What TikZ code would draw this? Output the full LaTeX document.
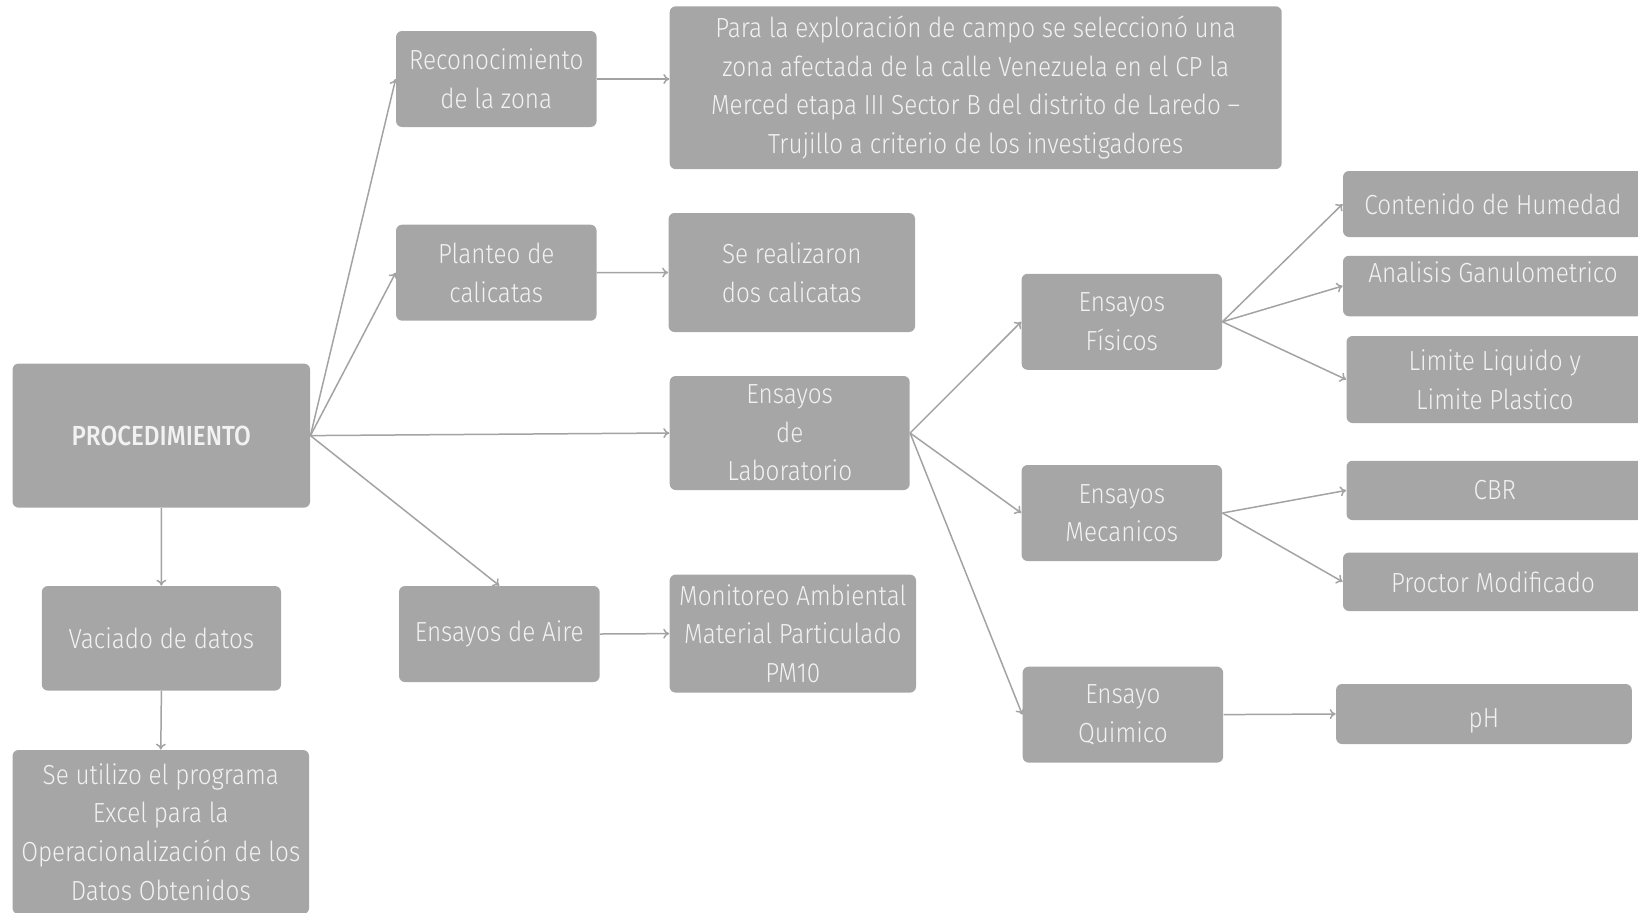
\documentclass[tikz,border=0pt]{standalone}
\usepackage{fontspec}
\setmainfont{Fira Sans}[UprightFont=* Light, BoldFont=* Medium, FakeStretch=0.88]
\usetikzlibrary{arrows.meta}
\definecolor{boxgray}{HTML}{A6A6A6}
\definecolor{linegray}{HTML}{A3A3A3}
\definecolor{txtgray}{HTML}{F2F2F2}
\begin{document}
\begin{tikzpicture}[x=0.5pt,y=-0.5pt,
  box/.style={fill=boxgray, rounded corners=3pt, text=txtgray, align=center, inner sep=0pt,
    font=\fontsize{13.8}{19.3}\selectfont},
  arr/.style={draw=linegray, line width=0.75pt, -{To[length=3pt,width=5pt]}}]
\useasboundingbox (0,0) rectangle (1638,912);

\node[box, minimum width=148.75pt, minimum height=72pt, font=\fontsize{13.8}{19.3}\selectfont\bfseries] (proc) at (161.3,435.6) {PROCEDIMIENTO};
\node[box, minimum width=100.25pt, minimum height=48pt] (recon) at (496.3,79) {Reconocimiento\\de la zona};
\node[box, minimum width=306pt, minimum height=81.4pt] (expl) at (975.7,87.7) {Para la exploración de campo se seleccionó una\\zona afectada de la calle Venezuela en el CP la\\Merced etapa III Sector B del distrito de Laredo –\\Trujillo a criterio de los investigadores};
\node[box, minimum width=100.25pt, minimum height=48pt] (plant) at (496.3,272.7) {Planteo de\\calicatas};
\node[box, minimum width=123.25pt, minimum height=59.5pt] (dos) at (791.8,272.5) {Se realizaron\\dos calicatas};
\node[box, minimum width=120pt, minimum height=57pt] (lab) at (789.7,433) {Ensayos\\de\\Laboratorio};
\node[box, minimum width=100.3pt, minimum height=48pt] (aire) at (499.3,634) {Ensayos de Aire};
\node[box, minimum width=123.2pt, minimum height=59pt] (moni) at (792.8,633.6) {Monitoreo Ambiental\\Material Particulado\\PM10};
\node[box, minimum width=119.6pt, minimum height=52.25pt] (vac) at (161.4,638.3) {Vaciado de datos};
\node[box, minimum width=148.25pt, minimum height=82pt] (excel) at (160.8,832) {Se utilizo el programa\\Excel para la\\Operacionalización de los\\Datos Obtenidos};

\node[box, minimum width=100.2pt, minimum height=48pt] (fis) at (1121.8,321.8) {Ensayos\\Físicos};
\node[box, minimum width=100.2pt, minimum height=48pt] (mec) at (1121.8,513) {Ensayos\\Mecanicos};
\node[box, minimum width=100.2pt, minimum height=48pt] (quim) at (1122.9,714.6) {Ensayo\\Quimico};

\node[box, minimum width=150pt, minimum height=33pt] (hum) at (1493,204) {Contenido de Humedad};
\node[box, minimum width=150pt, minimum height=30.25pt, text depth=14pt] (gran) at (1493,286) {Analisis Ganulometrico};
\node[box, minimum width=148.25pt, minimum height=43.5pt] (lim) at (1494.75,379.5) {Limite Liquido y\\Limite Plastico};
\node[box, minimum width=148.25pt, minimum height=29.65pt] (cbr) at (1494.75,490.4) {CBR};
\node[box, minimum width=150pt, minimum height=29.2pt] (proctor) at (1493,581.8) {Proctor Modificado};
\node[box, minimum width=147.85pt, minimum height=30pt, text height=16pt] (ph) at (1483.9,714) {pH};

\draw[arr] (proc.east) -- (recon.west);
\draw[arr] (proc.east) -- (plant.west);
\draw[arr] (proc.east) -- (lab.west);
\draw[arr] (proc.east) -- (aire.north);
\draw[arr] (proc.south) -- (vac.north);
\draw[arr] (vac.south) -- (excel.north);
\draw[arr] (recon.east) -- (recon.east -| expl.west);
\draw[arr] (plant.east) -- (dos.west);
\draw[arr] (aire.east) -- (moni.west);
\draw[arr] (lab.east) -- (fis.west);
\draw[arr] (lab.east) -- (mec.west);
\draw[arr] (lab.east) -- (quim.west);
\draw[arr] (fis.east) -- (hum.west);
\draw[arr] (fis.east) -- (gran.west);
\draw[arr] (fis.east) -- (lim.west);
\draw[arr] (mec.east) -- (cbr.west);
\draw[arr] (mec.east) -- (proctor.west);
\draw[arr] (quim.east) -- (ph.west);
\end{tikzpicture}
\end{document}
